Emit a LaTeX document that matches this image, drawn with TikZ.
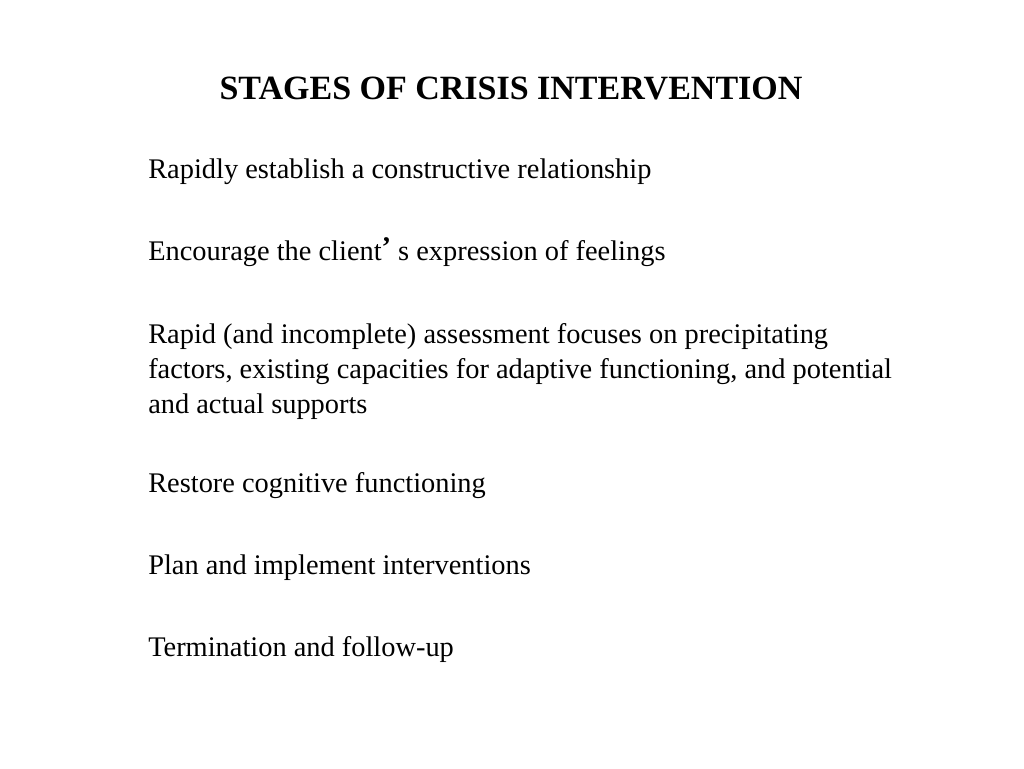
\documentclass[tikz,border=0pt]{standalone}
\usepackage{fontspec}
\setmainfont{Liberation Serif}
\usepackage{tikz}
\usetikzlibrary{positioning}
\tikzset{
    heading/.style={font=\fontsize{25.5}{31}\selectfont\bfseries, anchor=base, inner sep=0pt},
    stage/.style={font=\fontsize{21.3}{26.2}\selectfont, anchor=base west, align=left, inner sep=0pt}
}
\begin{document}
\begin{tikzpicture}[x=0.75pt, y=-0.75pt]
    \useasboundingbox[fill=white] (0,0) rectangle (1024,768);
    
    % Title
    \node[heading] (Title) at (511,99) {STAGES OF CRISIS INTERVENTION};
    
    % Stages
    \node[stage] (Rel) at (148,178) {Rapidly establish a constructive relationship};
    \node[stage] (Feel) at (148,260) {Encourage the client\raisebox{3pt}{\textbf{’}} s expression of feelings};
    \node[stage, anchor=north west] (Assess) at (148,323) {Rapid (and incomplete) assessment focuses on precipitating\\factors, existing capacities for adaptive functioning, and potential\\and actual supports};
    \node[stage] (Cog) at (148,492) {Restore cognitive functioning};
    \node[stage] (Plan) at (148,574) {Plan and implement interventions};
    \node[stage] (Term) at (148,656) {Termination and follow-up};
\end{tikzpicture}
\end{document}
